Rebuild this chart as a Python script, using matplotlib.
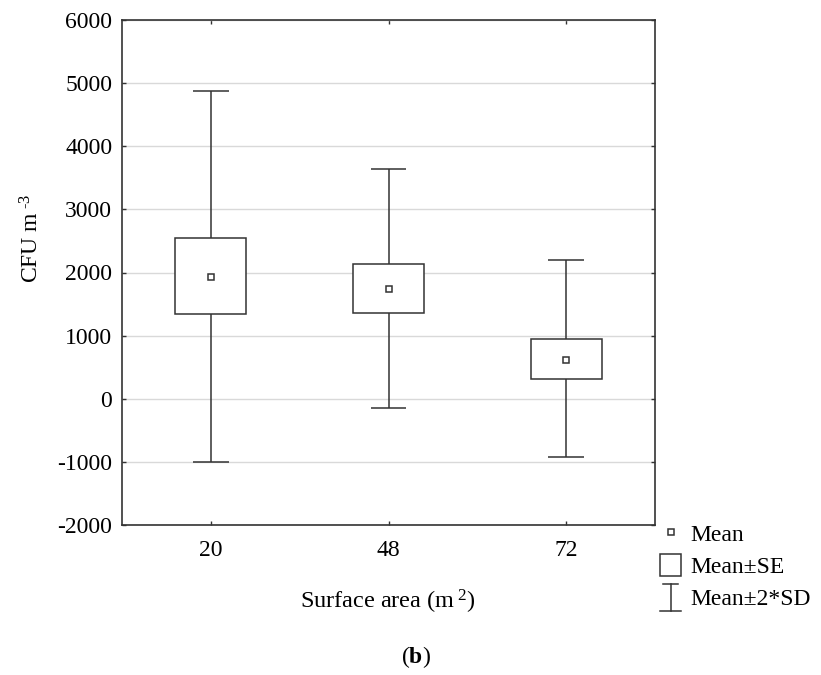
import matplotlib
matplotlib.use("Agg")
import matplotlib.pyplot as plt
from matplotlib.lines import Line2D
from matplotlib.patches import Rectangle
from matplotlib.legend_handler import HandlerBase
import numpy as np

# ---- data ----
categories = ["20", "48", "72"]
means = [1935, 1733, 620]
se_low = [1335, 1358, 313]
se_high = [2539, 2137, 954]
sd_low = [-1000, -153, -916]
sd_high = [4880, 3640, 2200]
y_ticks = [-2000, -1000, 0, 1000, 2000, 3000, 4000, 5000, 6000]

plt.rcParams['font.family'] = ['Liberation Serif', 'DejaVu Serif']
plt.rcParams['axes.unicode_minus'] = False
plt.rcParams['mathtext.fontset'] = 'custom'
plt.rcParams['mathtext.rm'] = 'Liberation Serif'
plt.rcParams['mathtext.it'] = 'Liberation Serif:italic'
plt.rcParams['mathtext.bf'] = 'Liberation Serif:bold'
plt.rcParams['mathtext.default'] = 'regular'
FS = 17
EDGE = '#333333'

fig = plt.figure(figsize=(8.21, 6.75), dpi=100)
ax = fig.add_axes([122/821, 1-525/675, (655-122)/821, (525-20)/675])

x = np.arange(len(categories))
box_w = 0.40
cap_w = 0.20

ax.set_ylim(-2000, 6000)
ax.set_xlim(-0.5, 2.5)
ax.set_yticks(y_ticks)
ax.set_yticklabels([str(v) for v in y_ticks])
ax.set_xticks(x)
ax.set_xticklabels(categories)
ax.grid(axis='y', color='#d9d9d9', linewidth=1.0, zorder=0)
ax.set_axisbelow(True)

lo = np.array(se_low); hi = np.array(se_high)
# whiskers
ax.vlines(x, sd_low, lo, color=EDGE, linewidth=1.1, zorder=2)
ax.vlines(x, hi, sd_high, color=EDGE, linewidth=1.1, zorder=2)
ax.hlines(sd_low, x - cap_w/2, x + cap_w/2, color=EDGE, linewidth=1.1, zorder=2)
ax.hlines(sd_high, x - cap_w/2, x + cap_w/2, color=EDGE, linewidth=1.1, zorder=2)
# SE boxes
ax.bar(x, hi - lo, bottom=lo, width=box_w, facecolor='white', edgecolor=EDGE,
       linewidth=1.1, zorder=3)
# means
ax.plot(x, means, 's', mfc='white', mec=EDGE, mew=1.1, ms=5, zorder=4)

for s in ax.spines.values():
    s.set_color(EDGE)
    s.set_linewidth(1.2)
ax.tick_params(direction='in', length=3, width=1, color=EDGE,
               top=True, right=True, labelsize=FS)
ax.tick_params(axis='y', pad=7)
ax.tick_params(axis='x', pad=11)

fig.text(32/821, 1 - 238/675, r"CFU m$^{\ \text{-3}}$", rotation=90, fontsize=FS,
         ha='center', va='center')
fig.text(388/821, 1 - 602/675, r"Surface area (m$^{\ 2}$)", fontsize=FS + 0.5,
         ha='center', va='center')
fig.text(416/821, 1 - 657/675, r"($\mathbf{b}$)", fontsize=FS, ha='center',
         va='center')


class WhiskerHandler(HandlerBase):
    def create_artists(self, legend, orig_handle, xdescent, ydescent,
                       width, height, fontsize, trans):
        cx = width / 2 - xdescent
        y0 = -ydescent - 2
        y1 = height - ydescent + 1
        v = Line2D([cx, cx], [y0, y1], color=EDGE, lw=1.1, transform=trans)
        b = Line2D([-xdescent, width - xdescent], [y0, y0], color=EDGE, lw=1.1,
                   transform=trans)
        t = Line2D([cx - width * 0.35, cx + width * 0.35], [y1, y1], color=EDGE,
                   lw=1.1, transform=trans)
        return [v, b, t]


class WhiskerProxy:
    pass


h_mean = Line2D([], [], marker='s', ls='none', mfc='white', mec=EDGE, mew=1.1, ms=5)
h_se = Rectangle((0, 0), 1, 1, facecolor='white', edgecolor=EDGE, linewidth=1.1)
h_sd = WhiskerProxy()
leg = fig.legend([h_mean, h_se, h_sd], ["Mean", "Mean\u00b1SE", "Mean\u00b12*SD"],
                 handler_map={WhiskerProxy: WhiskerHandler()},
                 loc='upper left', bbox_to_anchor=(660/821, 1 - 522/675),
                 frameon=False, fontsize=FS, handlelength=0.9, handleheight=1.1,
                 handletextpad=0.4, labelspacing=0.31, borderpad=0, borderaxespad=0)

fig.savefig("out.png", dpi=100)
